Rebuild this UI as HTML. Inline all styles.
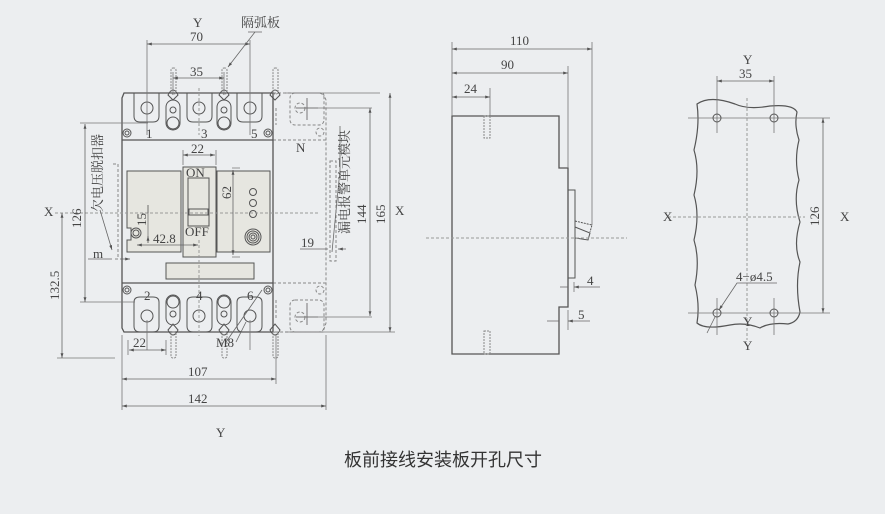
<!DOCTYPE html>
<html><head><meta charset="utf-8"><style>
html,body{margin:0;padding:0;background:#eceef0;}
svg{display:block;}
text{font-family:"Liberation Serif","Noto Serif CJK SC",serif;fill:#444;font-size:13px;}
.c{font-family:"Liberation Sans","Noto Sans CJK SC",sans-serif;font-size:18px;fill:#333;}
</style></head><body>
<svg width="885" height="514" viewBox="0 0 885 514" xmlns="http://www.w3.org/2000/svg">
<defs>
<marker id="a" viewBox="0 0 10 10" refX="10" refY="5" markerWidth="6" markerHeight="6" orient="auto-start-reverse"><path d="M0,2L10,5L0,8z" fill="#555"/></marker>
</defs>
<rect width="885" height="514" fill="#eceef0"/>
<g stroke="#555" stroke-width="1" fill="none">
<g stroke-dasharray="3,2" stroke="#888">
<path d="M273,93 H323 L326,100 V323 L323,332 H273"/>
<path d="M273,140 H326 M273,283 H326"/>
<rect x="290" y="93" width="34" height="32" rx="5"/>
<rect x="290" y="300" width="34" height="32" rx="5"/>
<rect x="330" y="161" width="6" height="100"/>
<circle cx="300" cy="108" r="5"/><circle cx="300" cy="317" r="5"/>
<circle cx="320" cy="132" r="4"/><circle cx="320" cy="290" r="4"/>
<path d="M276,108 V125 M276,300 V318"/>
<path d="M113,164 H118 V259 H113"/>
</g>
<path d="M307,98 V120 M296,108 H318 M307,303 V325 M296,317 H318" stroke="#777"/>
<path d="M124,93 H273 V332 H124 L122,328 V98 Z" stroke-width="1.3"/>
<path d="M122,140 H273 M122,283 H273" stroke-width="1.3"/>
<path d="M134,93 V116 Q134,122 140,122 H153 Q159,122 159,116 V93"/>
<path d="M187,93 V116 Q187,122 193,122 H206 Q212,122 212,116 V93"/>
<path d="M237,93 V116 Q237,122 243,122 H256 Q262,122 262,116 V93"/>
<circle cx="147" cy="108" r="6"/><circle cx="199" cy="108" r="6"/><circle cx="250" cy="108" r="6"/>
<path d="M134,302 V326 Q134,332 140,332 H153 Q159,332 159,326 V302 Q159,297 153,297 H140 Q134,297 134,302Z"/>
<path d="M187,302 V326 Q187,332 193,332 H206 Q212,332 212,326 V302 Q212,297 206,297 H193 Q187,297 187,302Z"/>
<path d="M237,302 V326 Q237,332 243,332 H256 Q262,332 262,326 V302 Q262,297 256,297 H243 Q237,297 237,302Z"/>
<circle cx="147" cy="316" r="6"/><circle cx="199" cy="316" r="6"/><circle cx="250" cy="316" r="6"/>
<g>
<rect x="166" y="100" width="14" height="30" rx="7"/><circle cx="173" cy="110" r="3"/><circle cx="173" cy="123" r="6"/>
<rect x="217" y="100" width="14" height="30" rx="7"/><circle cx="224" cy="110" r="3"/><circle cx="224" cy="123" r="6"/>
<rect x="166" y="295" width="14" height="30" rx="7"/><circle cx="173" cy="314" r="3"/><circle cx="173" cy="302" r="6"/>
<rect x="217" y="295" width="14" height="30" rx="7"/><circle cx="224" cy="314" r="3"/><circle cx="224" cy="302" r="6"/>
<path d="M168,95 Q173,85 178,95 L173,100Z M219,95 Q224,85 229,95 L224,100Z M270,95 Q275,85 280,95 L275,100Z"/>
<path d="M168,330 Q173,340 178,330 L173,324Z M219,330 Q224,340 229,330 L224,324Z M270,330 Q275,340 280,330 L275,324Z"/>
</g>
<g stroke="#888" stroke-dasharray="2,1">
<rect x="171" y="68" width="5" height="26" rx="2"/><rect x="222" y="68" width="5" height="26" rx="2"/><rect x="273" y="68" width="5" height="26" rx="2"/>
<rect x="171" y="332" width="5" height="26" rx="2"/><rect x="222" y="332" width="5" height="26" rx="2"/><rect x="273" y="332" width="5" height="26" rx="2"/>
</g>
<circle cx="127" cy="133" r="4"/><circle cx="127" cy="133" r="2"/>
<circle cx="268" cy="133" r="4"/><circle cx="268" cy="133" r="2"/>
<circle cx="127" cy="290" r="4"/><circle cx="127" cy="290" r="2"/>
<circle cx="268" cy="290" r="4"/><circle cx="268" cy="290" r="2"/>
<path d="M127,171 H181 V252 H127 V240 H131 V228 H127 Z" fill="#e6e6e0"/>
<rect x="183" y="167" width="33" height="90" fill="#e6e6e0"/>
<rect x="188" y="178" width="21" height="48"/>
<rect x="189" y="209" width="19" height="6"/>
<rect x="217" y="171" width="53" height="81" fill="#e6e6e0"/>
<circle cx="253" cy="192" r="3.5"/><circle cx="253" cy="203" r="3.5"/><circle cx="253" cy="214" r="3.5"/>
<circle cx="253" cy="237" r="8"/><circle cx="253" cy="237" r="6"/><circle cx="253" cy="237" r="4"/><circle cx="253" cy="237" r="2"/>
<circle cx="136" cy="233" r="5"/><circle cx="136" cy="233" r="3"/>
<rect x="166" y="263" width="88" height="16" fill="#e6e6e0"/>
<g stroke="#999" stroke-dasharray="3,2">
<path d="M55,213 H320"/>
<path d="M199,88 V135 M199,240 V336"/>
</g>
<g stroke="#777" stroke-width="0.8">
<path d="M147,40 V135 M250,40 V135 M173,72 V95 M224,72 V95"/>
<path d="M183,150 V165 M216,150 V165"/>
<path d="M232,168 H240 M232,257 H240"/>
<path d="M80,123 H148 M80,302 H135"/>
<path d="M57,358 H115"/>
<path d="M122,335 V410 M276,335 V384 M326,335 V410"/>
<path d="M128,340 V355 M166,340 V355 M147,320 V350 M250,320 V350"/>
<path d="M285,93 H380 M300,108 H372 M300,317 H372 M285,332 H395"/>
<path d="M148,205 V243"/>
</g>
<g stroke="#666" stroke-width="0.8" marker-start="url(#a)" marker-end="url(#a)">
<path d="M147,44 H250"/><path d="M173,78 H224"/><path d="M183,155 H215"/>
<path d="M233,170 V255"/><path d="M85,124 V302"/><path d="M62,213 V358"/>
<path d="M137,245 H198"/><path d="M370,108 V316"/><path d="M390,93 V332"/>
<path d="M129,350 H166"/><path d="M122,379 H276"/><path d="M122,406 H326"/>
</g>
<path d="M88,259 H112 M120,259 H130" stroke="#666" stroke-width="0.8" marker-end="url(#a)"/>
<path d="M300,249 H328 M346,249 H338" stroke="#666" stroke-width="0.8" marker-end="url(#a)"/>
<path d="M148,205 V213 M148,243 V236" stroke="#666" stroke-width="0.8" marker-end="url(#a)"/>
<path d="M255,32 L228,67" stroke="#666" stroke-width="0.8" marker-end="url(#a)"/>
<path d="M248,32 H262 M340,126 V170 L332,252" stroke="#666" stroke-width="0.8"/>
<path d="M100,210 L112,250" stroke="#666" stroke-width="0.8" marker-end="url(#a)"/>
<path d="M236,342 L246,322 M226,342 L262,290" stroke="#666" stroke-width="0.8"/>

<path d="M452,116 H559 V168 H568 V307 H559 V354 H452 Z" stroke-width="1.3"/>
<rect x="568" y="190" width="7" height="88"/>
<path d="M575,227 L590,233 L588,240 L575,238Z"/>
<path d="M575,221 L592,225 L590,232" stroke-dasharray="2,1"/>
<rect x="484" y="116" width="6" height="22" stroke="#888" stroke-dasharray="2,1"/>
<rect x="484" y="331" width="6" height="23" stroke="#888" stroke-dasharray="2,1"/>
<path d="M426,238 H627" stroke="#999" stroke-dasharray="3,2"/>
<g stroke="#777" stroke-width="0.8">
<path d="M452,42 V116 M592,42 V225 M568,66 V168 M490,88 V116 M574,282 V292 M568,310 V330"/>
</g>
<g stroke="#666" stroke-width="0.8" marker-start="url(#a)" marker-end="url(#a)">
<path d="M452,49 H592"/><path d="M452,73 H568"/><path d="M452,97 H490"/>
</g>
<path d="M560,287 H568 M600,287 H574" stroke="#666" stroke-width="0.8" marker-end="url(#a)"/>
<path d="M547,321 H559 M590,321 H568" stroke="#666" stroke-width="0.8" marker-end="url(#a)"/>

<path d="M697,104 Q710,95 735,104 Q748,110 770,106 Q793,104 797,112 Q794,125 799,140 Q794,160 799,180 Q793,200 800,222 Q793,245 800,262 Q795,285 800,312 Q798,322 788,324 Q770,322 760,328 Q745,322 730,325 Q705,330 697,323 Q700,305 695,285 Q700,260 694,240 Q700,215 694,195 Q700,170 694,150 Q700,125 697,104Z" stroke-width="1.2"/>
<g stroke="#777" stroke-width="0.8">
<path d="M688,118 H830 M688,313 H830 M717,76 V133 M774,76 V133 M717,298 V335 M774,298 V335"/>
</g>
<path d="M668,217 H805 M747,98 V340" stroke="#999" stroke-dasharray="3,2"/>
<circle cx="717" cy="118" r="4"/><circle cx="774" cy="118" r="4"/><circle cx="717" cy="313" r="4"/><circle cx="774" cy="313" r="4"/>
<g stroke="#666" stroke-width="0.8" marker-start="url(#a)" marker-end="url(#a)">
<path d="M717,81 H774"/><path d="M823,118 V313"/>
</g>
<path d="M777,283 H737 L719,310" stroke="#666" stroke-width="0.8" marker-end="url(#a)"/>
<path d="M715,317 L707,333" stroke="#666" stroke-width="0.8"/>
</g>
<text x="193" y="27">Y</text>
<text x="241" y="27" font-size="12">隔弧板</text>
<text x="190" y="41">70</text>
<text x="190" y="76">35</text>
<text x="146" y="138">1</text><text x="201" y="138">3</text><text x="251" y="138">5</text>
<text x="144" y="300">2</text><text x="196" y="300">4</text><text x="247" y="300">6</text>
<text x="191" y="153">22</text>
<text x="186" y="177">ON</text>
<text x="185" y="236">OFF</text>
<text x="153" y="243">42.8</text>
<text x="296" y="152">N</text>
<text x="44" y="216">X</text>
<text x="395" y="215">X</text>
<text x="93" y="258">m</text>
<text x="301" y="247">19</text>
<text x="133" y="347">22</text>
<text x="216" y="347">M8</text>
<text x="188" y="376">107</text>
<text x="188" y="403">142</text>
<text x="216" y="437">Y</text>
<text transform="translate(231,199) rotate(-90)">62</text>
<text transform="translate(81,228) rotate(-90)">126</text>
<text transform="translate(59,300) rotate(-90)">132.5</text>
<text transform="translate(146,226) rotate(-90)">15</text>
<text transform="translate(366,224) rotate(-90)">144</text>
<text transform="translate(385,224) rotate(-90)">165</text>
<text transform="translate(102,212) rotate(-90)" font-size="12">欠电压脱扣器</text>
<text transform="translate(349,234) rotate(-90)" font-size="12">漏电报警单元模块</text>
<text x="510" y="45">110</text>
<text x="501" y="69">90</text>
<text x="464" y="93">24</text>
<text x="587" y="285">4</text>
<text x="578" y="319">5</text>
<text x="743" y="64">Y</text>
<text x="739" y="78">35</text>
<text x="663" y="221">X</text>
<text x="840" y="221">X</text>
<text transform="translate(819,226) rotate(-90)">126</text>
<text x="736" y="281" font-size="12">4−ø4.5</text>
<text x="743" y="326">Y</text>
<text x="743" y="350">Y</text>
<text class="c" x="443" y="466" text-anchor="middle">板前接线安装板开孔尺寸</text>
</svg>
</body></html>
